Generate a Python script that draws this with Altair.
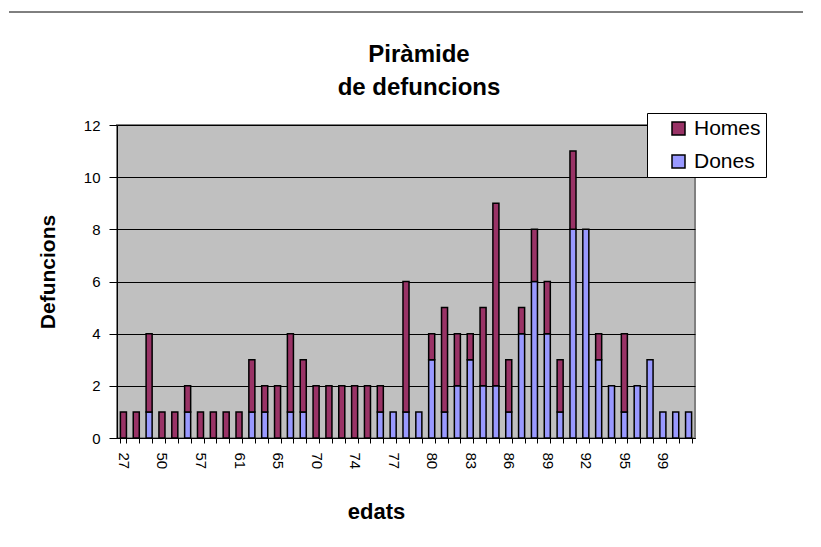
import json
import altair as alt
import pandas as pd

# ---- data ----
ages = ['27', '39', '45', '50', '53', '55', '57', '58', '60', '61', '62', '64',
        '65', '67', '68', '70', '71', '72', '74', '75', '76', '77', '78', '79',
        '80', '81', '82', '83', '84', '85', '86', '87', '88', '89', '90', '91',
        '92', '93', '94', '95', '96', '98', '99', '100', '101']
dones = [0, 0, 1, 0, 0, 1, 0, 0, 0, 0, 1, 1,
         0, 1, 1, 0, 0, 0, 0, 0, 1, 1, 1, 1,
         3, 1, 2, 3, 2, 2, 1, 4, 6, 4, 1, 8,
         8, 3, 2, 1, 2, 3, 1, 1, 1]
homes = [1, 1, 3, 1, 1, 1, 1, 1, 1, 1, 2, 1,
         2, 3, 2, 2, 2, 2, 2, 2, 1, 0, 5, 0,
         1, 4, 2, 1, 3, 7, 2, 1, 2, 2, 2, 3,
         0, 1, 0, 3, 0, 0, 0, 0, 0]
series = ['Homes', 'Dones']
colors = ['#993366', '#9999FF']
y_ticks = [0, 2, 4, 6, 8, 10, 12]
shown_labels = ['27', '50', '57', '61', '65', '70', '74', '77', '80', '83',
                '86', '89', '92', '95', '99']
title_lines = ['Piràmide', 'de defuncions']

rows = []
for a, d, h in zip(ages, dones, homes):
    if d:
        rows.append({'edat': a, 'serie': 'Dones', 'n': d, 'ord': 0})
    if h:
        rows.append({'edat': a, 'serie': 'Homes', 'n': h, 'ord': 1})
df = pd.DataFrame(rows)

FONT = 'Liberation Sans'
label_expr = "indexof(" + json.dumps(shown_labels) + ", datum.label) >= 0 ? datum.label : ''"

# chart-area frame: top edge only in this run
frame_top = alt.Chart(alt.Data(values=[{}])).mark_rule(
    stroke='black', strokeWidth=1
).encode(x=alt.value(-108), x2=alt.value(686), y=alt.value(-113))

bars = alt.Chart(df).mark_bar(stroke='black', strokeWidth=1.5).encode(
    x=alt.X('edat:N',
            scale=alt.Scale(domain=ages, paddingInner=0.53, paddingOuter=0.265),
            axis=alt.Axis(labelAngle=90, labelFontSize=15, labelFont=FONT,
                          labelColor='black', labelPadding=9, tickBand='extent',
                          tickSize=5, tickColor='black', domainColor='black',
                          grid=False, labelExpr=label_expr, labelOverlap=False,
                          titleFont=FONT, titleFontSize=22, titleFontWeight='bold',
                          titleColor='black', titleX=259, titleY=80,
                          titleBaseline='alphabetic', titleAlign='center'),
            title='edats'),
    y=alt.Y('n:Q', stack='zero',
            scale=alt.Scale(domain=[0, 12], nice=False),
            axis=alt.Axis(values=y_ticks, labelFontSize=15, labelFont=FONT,
                          labelColor='black', tickSize=8, labelPadding=9,
                          tickColor='black', domainColor='black',
                          grid=True, gridColor='black', gridWidth=1,
                          titleFont=FONT, titleFontSize=21, titleFontWeight='bold',
                          titleColor='black', titleAngle=270, titleX=-69,
                          titleY=146.5, titleAlign='center', titleBaseline='middle'),
            title='Defuncions'),
    color=alt.Color('serie:N',
                    scale=alt.Scale(domain=series, range=colors),
                    legend=alt.Legend(title=None, orient='none', legendX=530,
                                      legendY=-12, symbolType='square',
                                      symbolSize=169, symbolStrokeColor='black',
                                      symbolStrokeWidth=1.5, labelFont=FONT,
                                      labelFontSize=21, labelColor='black',
                                      padding=5, rowPadding=11, symbolOffset=16,
                                      labelOffset=5, strokeColor='black',
                                      fillColor='white',
                                      labelExpr="datum.label + '    '")),
    order=alt.Order('ord:Q', sort='ascending'),
)

title = alt.Chart(alt.Data(values=[{}])).mark_text(
    text=title_lines, font=FONT, fontSize=24, fontWeight='bold', color='black',
    align='center', baseline='alphabetic', lineHeight=33
).encode(x=alt.value(302), y=alt.value(-63))

chart = alt.layer(frame_top, bars, title).properties(
    width=578, height=313,
    autosize=alt.AutoSizeParams(type='none'),
    padding={'left': 109, 'top': 117, 'right': 110, 'bottom': 95},
    background='white'
).configure_view(
    fill='#C0C0C0', stroke='#808080', strokeWidth=2
)

chart.save('out.html', embed_options={'renderer': 'svg', 'actions': False})
